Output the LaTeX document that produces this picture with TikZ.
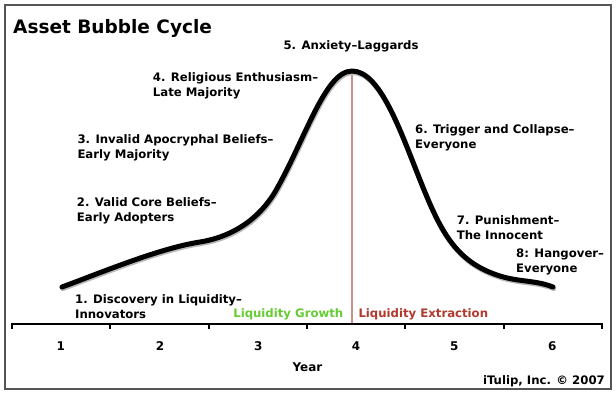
\documentclass[tikz,border=0pt]{standalone}
\usepackage{fontspec}
\newfontfamily\vf{DejaVu Sans}
\definecolor{grow}{HTML}{66CC33}
\definecolor{extr}{HTML}{B03A2E}
\definecolor{peakline}{HTML}{CC8F88}
\definecolor{frame}{HTML}{555555}
\begin{document}
\begin{tikzpicture}[x=1pt,y=-1pt,
  lbl/.style={font=\vf\bfseries\fontsize{11.7}{15}\selectfont, inner sep=0pt, anchor=base west, align=left},
  num/.style={font=\vf\bfseries\fontsize{12}{15}\selectfont, inner sep=0pt, anchor=base},
  curve/.style={line width=5pt, line cap=round, line join=round}]
\useasboundingbox (0,0) rectangle (616,394);
\fill[white] (0,0) rectangle (616,394);
\draw[frame, line width=1.5pt] (5,5) rectangle (611,389);
% title
\node[font=\vf\bfseries\fontsize{18.5}{22}\selectfont, inner sep=0pt, anchor=base west] (title) at (13,33) {Asset Bubble Cycle};
% peak line
\coordinate (peak) at (352,71);
\coordinate (peakfoot) at (352,324);
\draw[peakline, line width=1.5pt] (peak) -- (peakfoot);
% curve shadow + curve
\def\bubble{(62,287) .. controls (100,273) and (160,248) .. (200,242)
  .. controls (225,238) and (255,225) .. (275,192)
  .. controls (305,140) and (325,71) .. (352,71)
  .. controls (380,71) and (400,130) .. (420,180)
  .. controls (440,230) and (455,262) .. (500,276)
  .. controls (520,282.2) and (535,280) .. (553,287)}
\draw[gray!55, curve, shift={(0.8,1.6)}] \bubble;
\draw[black, curve] \bubble;
% axis
\coordinate (a0) at (12,324);
\coordinate (a1) at (602,324);
\draw[black, line width=2pt] (a0) -- (a1);
\foreach \x in {12,110.3,208.7,307,405.3,503.7,602}{
  \draw[black, line width=2pt] (\x,323) -- (\x,328.5);
}
\foreach \n/\x in {1/60.7,2/160,3/258.3,4/356,5/454.3,6/552.3}{
  \node[num] (n\n) at (\x,350) {\n};
}
\node[num] (year) at (307.5,371.5) {Year};
\node[lbl, anchor=base east] (copy) at (605,384.3) {iTulip, Inc. \textcopyright{} 2007};
% liquidity
\node[lbl, anchor=base east, text=grow] (lg) at (343.5,317.3) {Liquidity Growth};
\node[lbl, text=extr] (le) at (358.3,317.3) {Liquidity Extraction};
% stage labels (anchor = baseline of last line)
\node[lbl] (s1) at (75,318) {1. Discovery in Liquidity–\\Innovators};
\node[lbl] (s2) at (76.7,221.7) {2. Valid Core Beliefs–\\Early Adopters};
\node[lbl] (s3) at (77.3,158.3) {3. Invalid Apocryphal Beliefs–\\Early Majority};
\node[lbl] (s4) at (152.7,96.7) {4. Religious Enthusiasm–\\Late Majority};
\node[lbl] (s5) at (283.3,49) {5. Anxiety–Laggards};
\node[lbl] (s6) at (415,148) {6. Trigger and Collapse–\\Everyone};
\node[lbl] (s7) at (456.7,239.5) {7. Punishment–\\The Innocent};
\node[lbl] (s8) at (516,272.5) {8: Hangover–\\Everyone};
\end{tikzpicture}
\end{document}
